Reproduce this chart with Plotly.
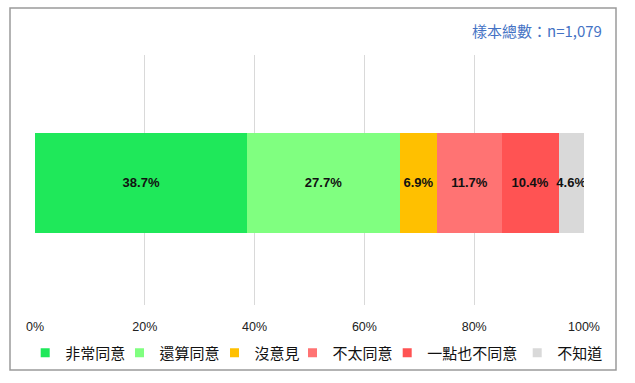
import plotly.graph_objects as go

categories = ["非常同意", "還算同意", "沒意見", "不太同意", "一點也不同意", "不知道"]
values = [38.7, 27.7, 6.9, 11.7, 10.4, 4.6]
colors = ["#1fe85a", "#80ff80", "#ffc000", "#ff7373", "#ff5353", "#d9d9d9"]
tick_vals = [0, 20, 40, 60, 80, 100]
tick_text = ["0%", "20%", "40%", "60%", "80%", "100%"]
note = "樣本總數：n=1,079"

# layout: pixel left edge of each legend entry text (one legend box per entry)
legend_text_px = [60.7, 155, 250, 328, 422.7, 552.7]
PLOT_L, PLOT_W, PLOT_T, PLOT_H = 35, 549, 55, 250


def px_x(px):
    return (px - PLOT_L) / PLOT_W


def px_y(py):
    return (PLOT_T + PLOT_H - py) / PLOT_H


fig = go.Figure()
for cat, v, c in zip(categories, values, colors):
    fig.add_trace(go.Bar(
        x=[v], y=[0], orientation="h", name=cat,
        marker=dict(color=c, line=dict(width=0)),
        width=0.4, showlegend=False,
        text=[f"<b>{v:.1f}%</b>"], textposition="inside", textangle=0,
        insidetextanchor="middle", constraintext="none",
        textfont=dict(family="Liberation Sans, Arial", size=13, color="#111111"),
        hoverinfo="skip",
    ))

legend_layouts = {}
for i, (cat, c) in enumerate(zip(categories, colors)):
    lname = "legend" if i == 0 else f"legend{i + 1}"
    fig.add_trace(go.Scatter(
        x=[None], y=[None], mode="markers", name=cat, legend=lname,
        marker=dict(symbol="square", size=9, color=c),
        hoverinfo="skip", showlegend=True,
    ))
    legend_layouts[lname] = dict(
        orientation="h", x=px_x(legend_text_px[i] - 40 + 4.5), xanchor="left",
        y=px_y(353), yanchor="middle", bgcolor="rgba(0,0,0,0)",
        font=dict(family="Noto Sans CJK TC", size=15, color="#111111"),
        itemwidth=30,
    )

fig.update_layout(
    barmode="stack",
    width=635, height=383,
    margin=dict(l=PLOT_L, r=635 - PLOT_L - PLOT_W, t=PLOT_T, b=383 - PLOT_T - PLOT_H),
    paper_bgcolor="white", plot_bgcolor="white",
    showlegend=True,
    uniformtext=dict(mode="show", minsize=13),
    xaxis=dict(range=[0, 100], tickvals=tick_vals, ticktext=tick_text,
               showgrid=True, gridcolor="#d9d9d9", gridwidth=1,
               zeroline=False, showline=False, ticks="", ticklabelstandoff=12,
               tickfont=dict(family="Liberation Sans, Arial", size=12.5, color="#222222")),
    yaxis=dict(range=[-0.489, 0.511], showticklabels=False, showgrid=False, zeroline=False),
    annotations=[dict(text=note, xref="paper", yref="paper", x=px_x(604), y=px_y(31),
                      xanchor="right", yanchor="middle", showarrow=False,
                      font=dict(family="Noto Sans CJK TC", size=15, color="#4472c4"))],
    shapes=[dict(type="rect", xref="paper", yref="paper",
                 x0=px_x(10), x1=px_x(616), y0=px_y(370), y1=px_y(8),
                 line=dict(color="#9a9a9a", width=1.5), fillcolor="rgba(0,0,0,0)",
                 layer="below")],
    **legend_layouts,
)

fig.write_html("out.html")
